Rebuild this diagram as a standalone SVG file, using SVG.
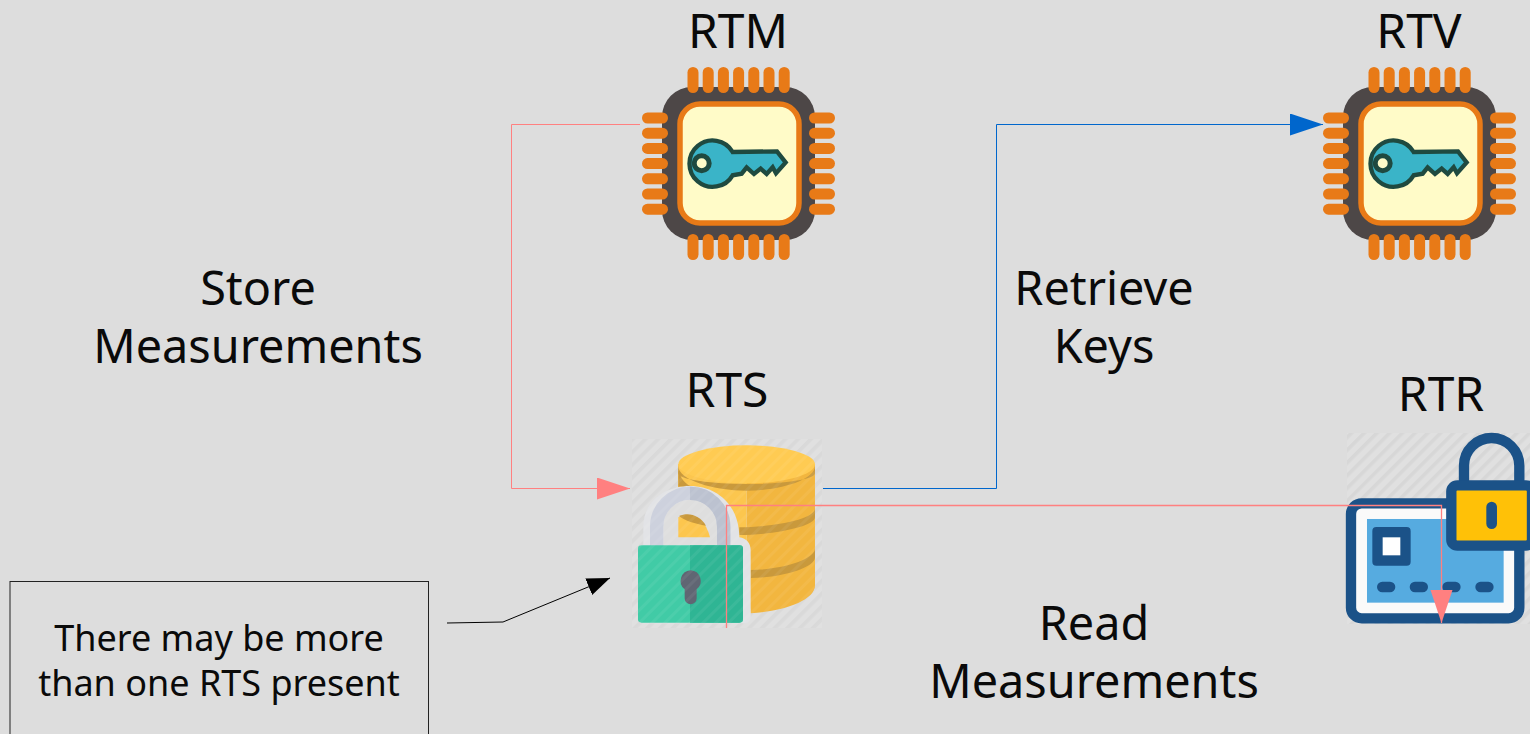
<svg xmlns="http://www.w3.org/2000/svg" width="1530" height="734" viewBox="0 0 1530 734">
<style>
text{font-family:"Noto Sans","Open Sans","Liberation Sans",sans-serif;fill:#0a0a0a;text-anchor:middle}
.big{font-size:46.8px}
.tag{font-size:48px}
.note{font-size:36px}
.pin{fill:#E87A17}
.conn{fill:none;stroke-width:1}
</style>
<defs>
<pattern id="hatch" width="9" height="9" patternUnits="userSpaceOnUse" patternTransform="rotate(-45)">
<rect width="9" height="9" fill="#E0E0E0"/>
<rect width="9" height="3.5" fill="#D7D7D7"/>
</pattern>
<pattern id="stripes" width="9" height="9" patternUnits="userSpaceOnUse" patternTransform="rotate(-45)">
<rect width="9" height="3" fill="#fff" fill-opacity=".06"/>
</pattern>
<marker id="aPink" markerUnits="userSpaceOnUse" markerWidth="34" markerHeight="24" refX="33" refY="11" orient="auto"><path d="M0 0L33 11L0 22Z" fill="#FF8080"/></marker>
<marker id="aBlue" markerUnits="userSpaceOnUse" markerWidth="34" markerHeight="24" refX="33" refY="11" orient="auto"><path d="M0 0L33 11L0 22Z" fill="#0066CC"/></marker>
<marker id="aBlack" markerUnits="userSpaceOnUse" markerWidth="24" markerHeight="20" refX="23" refY="9" orient="auto"><path d="M0 0L23 9L0 18Z" fill="#000"/></marker>
<g id="chip">
<rect x="32" y="27" width="153" height="153" rx="30" fill="#4D4747"/>
<g class="pin">
<rect x="57.500" y="7" width="11" height="26" rx="5.500"/><rect x="72.700" y="7" width="11" height="26" rx="5.500"/><rect x="87.900" y="7" width="11" height="26" rx="5.500"/><rect x="103.100" y="7" width="11" height="26" rx="5.500"/><rect x="118.300" y="7" width="11" height="26" rx="5.500"/><rect x="133.500" y="7" width="11" height="26" rx="5.500"/><rect x="148.700" y="7" width="11" height="26" rx="5.500"/>
<rect x="57.500" y="174" width="11" height="26" rx="5.500"/><rect x="72.700" y="174" width="11" height="26" rx="5.500"/><rect x="87.900" y="174" width="11" height="26" rx="5.500"/><rect x="103.100" y="174" width="11" height="26" rx="5.500"/><rect x="118.300" y="174" width="11" height="26" rx="5.500"/><rect x="133.500" y="174" width="11" height="26" rx="5.500"/><rect x="148.700" y="174" width="11" height="26" rx="5.500"/>
<rect x="12" y="52.500" width="26" height="11" rx="5.500"/><rect x="12" y="67.700" width="26" height="11" rx="5.500"/><rect x="12" y="82.900" width="26" height="11" rx="5.500"/><rect x="12" y="98.100" width="26" height="11" rx="5.500"/><rect x="12" y="113.300" width="26" height="11" rx="5.500"/><rect x="12" y="128.500" width="26" height="11" rx="5.500"/><rect x="12" y="143.700" width="26" height="11" rx="5.500"/>
<rect x="179" y="52.500" width="26" height="11" rx="5.500"/><rect x="179" y="67.700" width="26" height="11" rx="5.500"/><rect x="179" y="82.900" width="26" height="11" rx="5.500"/><rect x="179" y="98.100" width="26" height="11" rx="5.500"/><rect x="179" y="113.300" width="26" height="11" rx="5.500"/><rect x="179" y="128.500" width="26" height="11" rx="5.500"/><rect x="179" y="143.700" width="26" height="11" rx="5.500"/>
</g>
<rect x="50" y="44" width="119" height="119" rx="20" fill="#FFFBC8" stroke="#E87A17" stroke-width="5.500"/>
<path transform="scale(.3333)" d="M308 276 A69.500 69.500 0 1 0 308 346 L335 341 L350 322 L372 342 L392 326 L410 342 L428 322 L438 340 L467 307 L441 274 Z" fill="#3AB4C8" stroke="#1F4A40" stroke-width="13" stroke-linejoin="miter"/>
<circle cx="71.700" cy="103.300" r="7.500" fill="#FFFBC8" stroke="#1F4A40" stroke-width="5"/>
</g>
</defs>

<rect width="1530" height="734" fill="#DDDDDD"/>

<g id="rtm"><use href="#chip" x="630" y="60"/><text class="tag" x="738" y="48">RTM</text></g>
<g id="rtv"><use href="#chip" x="1311" y="60"/><text class="tag" x="1419" y="48">RTV</text></g>

<g id="rts">
<rect x="632" y="439" width="190" height="189" fill="url(#hatch)"/>
<g transform="translate(620 430) scale(.3333)">
<path d="M175 103 V170 H380 V536 C480 536 585 510 585 465 V103Z" fill="#F2B63F"/>
<path d="M175 103 V170 H380 V103Z M380 170 V536 L392 550 V380 L340 320 L175 320 V170Z" fill="#FCC64E"/>
<path d="M392 550 C480 545 585 515 585 465 V370 C585 405 490 440 392 444Z" fill="#F2B63F"/>
<path d="M175 108 C175 150 280 182 380 182 C480 182 585 150 585 108 V130 C585 150 480 162 380 162 C280 162 175 150 175 130Z" fill="#C9993C"/>
<path d="M175 108 V170 L215 170 C190 160 175 135 175 108Z" fill="#C9993C"/>
<path d="M358 292 C450 292 585 270 585 235 V262 C585 290 460 315 358 315Z" fill="#C9993C"/>
<path d="M392 420 C480 420 585 390 585 355 V382 C585 415 480 444 392 444Z" fill="#C9993C"/>
<ellipse cx="380" cy="103" rx="205" ry="57" fill="#FFCB52"/>
<path d="M70 345 V290 C70 210 140 168 210 168 C290 168 358 225 358 322 C380 325 392 340 392 360 V560 C392 575 380 580 370 580 H60 V345Z" fill="#E2E3E6"/>
<path d="M130 346 V290 A80 80 0 0 1 292 290 V346Z" fill="#DEDEDE"/>
<path d="M175 322 V262 C215 245 255 260 270 322Z" fill="#FCC64E"/>
<path d="M177 258 C205 245 240 255 258 287 C225 282 195 272 177 258Z" fill="#C9993C"/>
<path d="M110 350 V290 A100 100 0 0 1 311 290 V350" fill="none" stroke="#CDD1DD" stroke-width="40"/>
<path d="M210 190 A100 100 0 0 1 311 290 V350" fill="none" stroke="#BCC2D0" stroke-width="40"/>
<rect x="54" y="346" width="315" height="232" rx="10" fill="#41CBA6"/>
<path d="M210 346 H359 A10 10 0 0 1 369 356 V568 A10 10 0 0 1 359 578 H210Z" fill="#2FB594"/>
<path d="M212 421 A32 32 0 0 1 230 478 V505 A18 18 0 0 1 194 505 V478 A32 32 0 0 1 212 421Z" fill="#606673"/>
</g>
<rect x="632" y="439" width="190" height="189" fill="url(#stripes)"/>
<text class="tag" x="727" y="407">RTS</text>
</g>

<g id="rtr">
<rect x="1347" y="433" width="183" height="191" fill="url(#hatch)"/>
<g transform="translate(1330 420) scale(.3333)">
<rect x="63" y="250" width="505" height="345" rx="32" fill="#FAFAFA" stroke="#1B5288" stroke-width="31"/>
<rect x="111" y="297" width="410" height="251" fill="#56ABE0"/>
<rect x="127" y="321" width="115" height="116" rx="12" fill="#1B5288"/>
<rect x="158" y="352" width="53" height="54" fill="#fff"/>
<rect x="141" y="485" width="55" height="32" rx="16" fill="#1B5288"/>
<rect x="239" y="485" width="55" height="32" rx="16" fill="#1B5288"/>
<rect x="337" y="485" width="55" height="32" rx="16" fill="#1B5288"/>
<rect x="436" y="485" width="55" height="32" rx="16" fill="#1B5288"/>
<path d="M402 200 V137 A82 82 0 0 1 568 137 V200" fill="none" stroke="#1B5288" stroke-width="31"/>
<rect x="364" y="196" width="242" height="181" rx="18" fill="#FFC107" stroke="#1B5288" stroke-width="31"/>
<rect x="469" y="245" width="32" height="82" rx="16" fill="#1B5288"/>
</g>
<text class="tag" x="1441" y="411">RTR</text>
</g>

<g id="note">
<rect x="10" y="581.500" width="418.500" height="170" fill="none" stroke="#222" stroke-width="1"/>
<text class="note" x="219" y="651">There may be more</text>
<text class="note" x="219" y="696">than one RTS present</text>
</g>

<g id="labels">
<text class="big" x="258" y="305">Store</text>
<text class="big" x="258" y="363">Measurements</text>
<text class="big" x="1104" y="305">Retrieve</text>
<text class="big" x="1104" y="363">Keys</text>
<text class="big" x="1094" y="640">Read</text>
<text class="big" x="1094" y="698">Measurements</text>
</g>

<g id="connectors">
<path class="conn" d="M640 124.500H511.500V488.500H630" stroke="#FF8080" marker-end="url(#aPink)"/>
<path class="conn" d="M823 488.500H996.500V124.500H1323" stroke="#0066CC" marker-end="url(#aBlue)"/>
<path class="conn" style="stroke-width:1.3" d="M726.500 628V505.500H1441.500V623" stroke="#FF8080" marker-end="url(#aPink)"/>
<path class="conn" d="M447 623L503 622L610 578" stroke="#000" marker-end="url(#aBlack)"/>
</g>
</svg>
